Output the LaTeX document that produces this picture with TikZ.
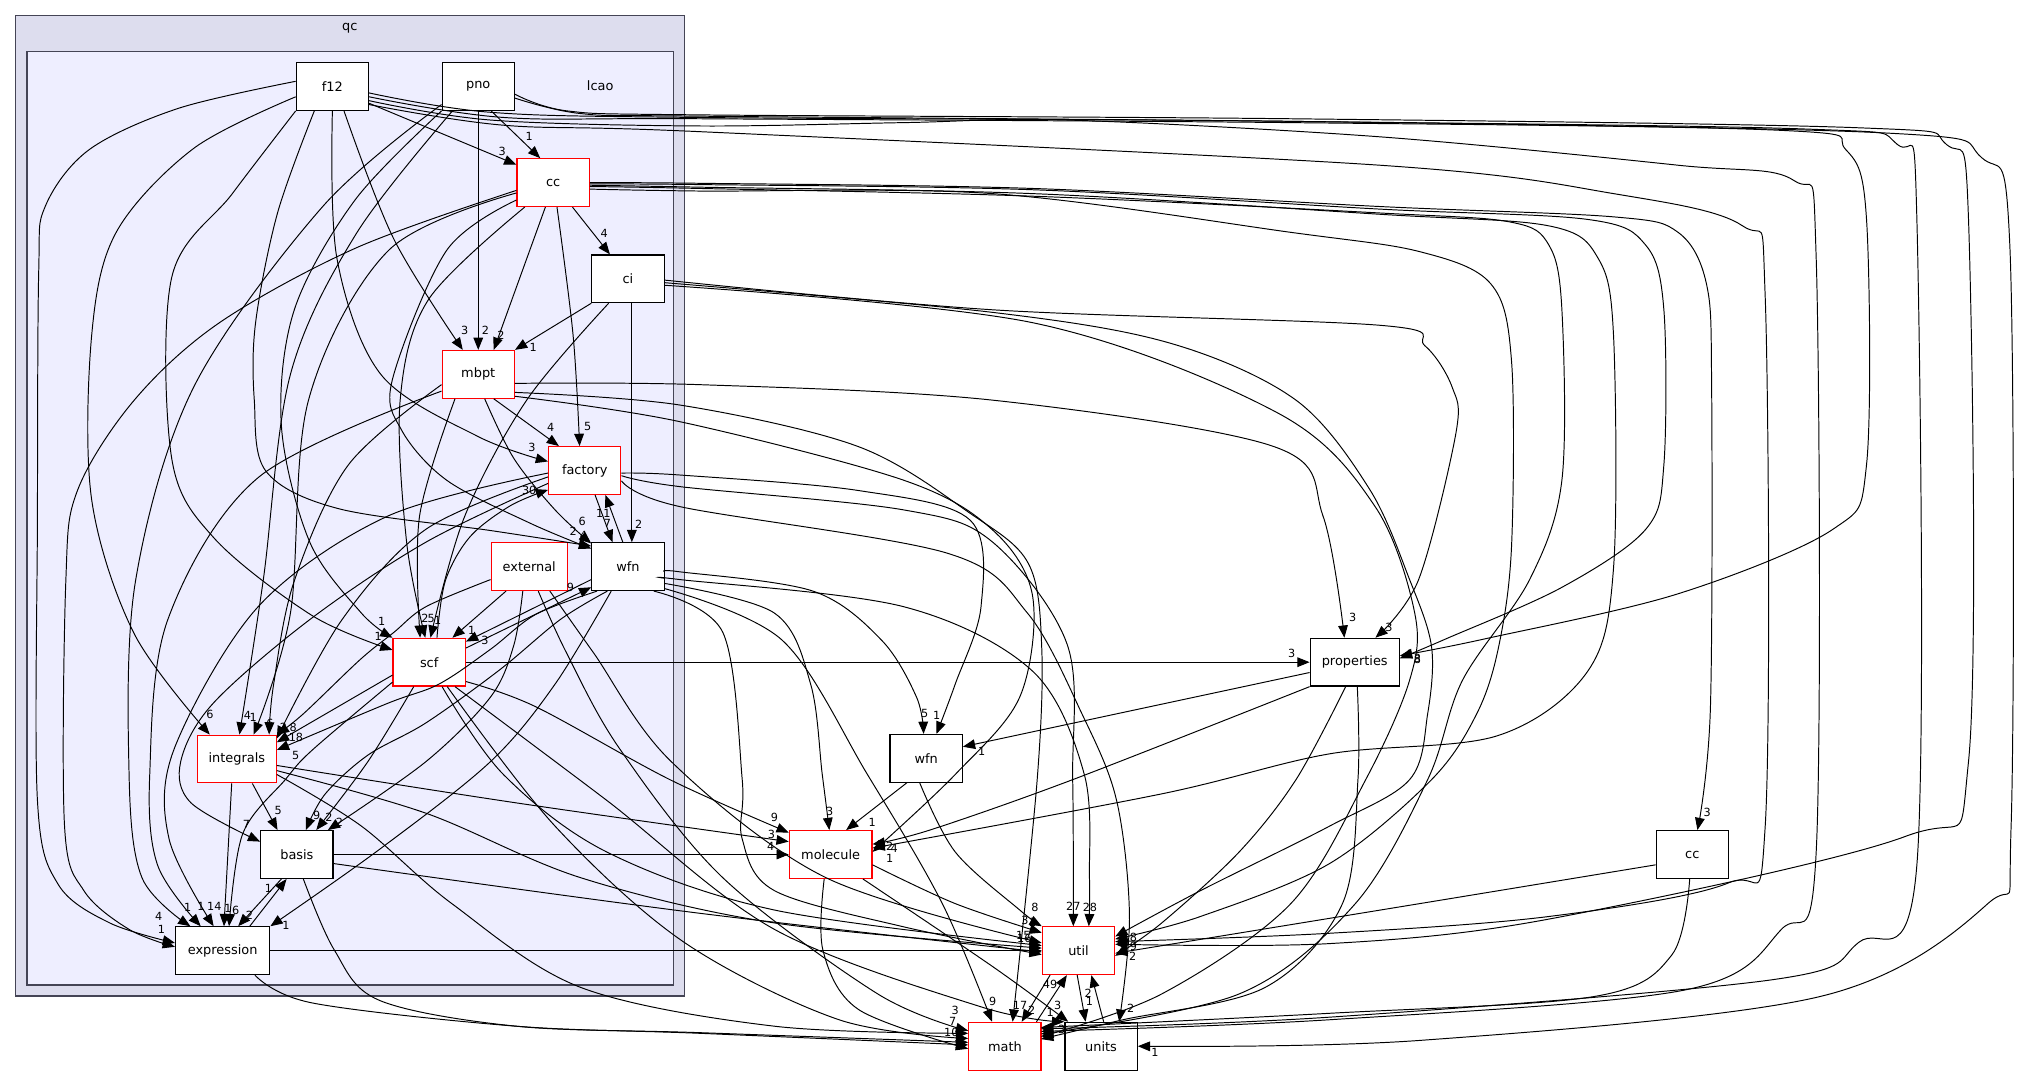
\documentclass[tikz,border=0pt]{standalone}
\usepackage{fontspec}
\setmainfont{DejaVu Sans}
\usetikzlibrary{arrows.meta}
\definecolor{clout}{HTML}{DDDDEE}
\definecolor{clin}{HTML}{EEEEFF}
\definecolor{clbd}{HTML}{444455}
\begin{document}
\begin{tikzpicture}[x=1pt,y=-1pt,
  dirbox/.style={draw=black, fill=white, line width=0.9pt, minimum width=56pt, minimum height=37pt, inner sep=0pt, font=\fontsize{10}{12}\selectfont},
  redbox/.style={dirbox, draw=red},
  dep/.style={draw=black, line width=0.75pt, -{Triangle[length=9.5pt,width=7.5pt]}},
  sm/.style={smooth, tension=0.55},
  lab/.style={inner sep=0pt, font=\fontsize{8.7}{10}\selectfont},
  cltext/.style={inner sep=0pt, font=\fontsize{10}{12}\selectfont}]
\useasboundingbox (0,0) rectangle (1568,834);
\fill[white] (0,0) rectangle (1568,834);
% clusters
\draw[fill=clout, draw=clbd, line width=1pt] (12,12) rectangle (530.5,771.5);
\node[cltext] (qclab) at (271,22) {qc};
\draw[fill=clin, draw=clbd, line width=1pt] (21,40) rectangle (522,763);
\node[cltext] (lcaolab) at (465,66.6) {lcao};
% nodes
\node[dirbox] (f12) at (257.5,67) {f12};
\node[dirbox] (pno) at (370.5,67) {pno};
\node[redbox] (cc) at (428.5,141.5) {cc};
\node[dirbox] (ci) at (486.5,216) {ci};
\node[redbox] (mbpt) at (370.5,290) {mbpt};
\node[redbox] (factory) at (453,364.5) {factory};
\node[redbox, minimum width=59pt] (external) at (410,439) {external};
\node[dirbox] (wfn) at (486.5,439) {wfn};
\node[redbox] (scf) at (332.5,513) {scf};
\node[redbox, minimum width=61pt] (integrals) at (183.5,588) {integrals};
\node[dirbox] (basis) at (230,662) {basis};
\node[dirbox, minimum width=73pt] (expression) at (172.5,736.5) {expression};
\node[dirbox, minimum width=69pt] (properties) at (1049.5,513) {properties};
\node[dirbox] (wfn2) at (717.5,587.5) {wfn};
\node[redbox, minimum width=64pt] (molecule) at (643.5,662) {molecule};
\node[redbox] (util) at (835.5,736.5) {util};
\node[redbox] (math) at (778.5,810.5) {math};
\node[dirbox] (units) at (853,810.5) {units};
\node[dirbox] (cc2) at (1311,662) {cc};

% ---------- edges inside lcao ----------
\draw[dep] ([yshift=-13pt]f12.east) -- ([yshift=-5pt]cc.north west);
\node[lab] (l1) at (389,117) {3};
\draw[dep] ([xshift=10pt]pno.south) -- ([xshift=-10pt]cc.north);
\node[lab] (l2) at (410,106) {1};
\draw[dep] ([xshift=15pt]cc.south) -- ([xshift=-14pt]ci.north);
\node[lab] (l3) at (468,181) {4};
\draw[dep] plot[sm] coordinates {([xshift=9pt]f12.south) (305,185) ([xshift=-12pt]mbpt.north)};
\node[lab] (l4) at (360,256) {3};
\draw[dep] (pno.south) -- (mbpt.north);
\node[lab] (l5) at (376,256) {2};
\draw[dep] ([xshift=-6pt]cc.south) -- ([xshift=12pt]mbpt.north);
\node[lab] (l6) at (388,259.5) {2};
\draw[dep] (ci.south west) -- (mbpt.north east);
\node[lab] (l7) at (413,269) {1};
\draw[dep] plot[sm] coordinates {(f12.south) (261,200) (295,290) (370,338) ([yshift=7pt]factory.west)};
\node[lab] (l8) at (412,346.5) {3};
\draw[dep] ([xshift=12pt]mbpt.south) -- ([xshift=-20pt]factory.north);
\node[lab] (l9) at (426.6,331) {4};
\draw[dep] plot[sm] coordinates {([xshift=3pt]cc.south) (444,260) ([xshift=-4pt]factory.north)};
\node[lab] (l10) at (455.3,330.5) {5};
\draw[dep] plot[sm] coordinates {([xshift=6pt]scf.north) (345,450) (364,416) (395,392) ([yshift=-15pt]factory.west)};
\node[lab] (l11) at (410,379.6) {30};
\draw[dep] ([xshift=-4pt]wfn.north) -- ([xshift=16pt]factory.south);
\node[lab] (l12) at (467.4,397.7) {11};
\draw[dep] ([xshift=8pt]factory.south) -- ([xshift=-12pt]wfn.north);
\node[lab] (l13) at (470.5,405.5) {7};
\draw[dep] ([xshift=3pt]ci.south) -- ([xshift=3pt]wfn.north);
\node[lab] (l14) at (494.8,406) {2};
\draw[dep] plot[sm] coordinates {([xshift=-14pt]f12.south) (215,165) (198,250) (197,310) (206,365) (262,394) (380,411) ([yshift=-3pt]wfn.north west)};
\node[lab] (l15) at (451,404) {6};
\draw[dep] plot[sm] coordinates {([xshift=5pt]mbpt.south) (398,355) (430,395) ([yshift=-1pt]wfn.north west)};
\node[lab] (l16) at (452,415) {4};
\draw[dep] plot[sm] coordinates {([yshift=-13.5pt]cc.west) (346,194) (304,294) (311,333) (346,372) (410,405) ([yshift=-5pt]wfn.north west)};
\node[lab] (l17) at (444,411.5) {2};
\draw[dep] ([yshift=-8pt]scf.north east) -- ([yshift=3pt]wfn.south west);
\node[lab] (l18) at (442,455) {9};
\draw[dep] ([yshift=-10pt]wfn.west) -- ([yshift=-3pt]scf.north east);
\node[lab] (l19) at (375.7,496) {3};
\draw[dep] ([xshift=-18pt]external.south) -- ([xshift=18pt]scf.north);
\node[lab] (l20) at (365.4,488) {1};
\draw[dep] plot[sm] coordinates {(pno.south west) (275,155) (228,240) (218,330) (240,420) (280,475) (scf.north west)};
\node[lab] (l21) at (295.7,481.6) {1};
\draw[dep] plot[sm] coordinates {([xshift=-18pt]mbpt.south) (325,400) ([xshift=-7pt]scf.north)};
\node[lab] (l22) at (329.3,479) {2};
\draw[dep] plot[sm] coordinates {([xshift=-22pt]cc.south) (332,232) (310,310) (315,420) ([xshift=-3pt]scf.north)};
\node[lab] (l23) at (334,479) {5};
\draw[dep] plot[sm] coordinates {([xshift=-15pt]ci.south) (408,310) (360,400) ([xshift=1pt]scf.north)};
\node[lab] (l24) at (339,480.3) {1};
\draw[dep] plot[sm] coordinates {(f12.south west) (180,150) (133,215) (133,355) (166,417) (242,477) ([yshift=9.5pt]scf.west)};
\node[lab] (l25) at (293,492.7) {1};
% integrals
\draw[dep] plot[sm] coordinates {([yshift=-8pt]f12.west) (150,115) (90,180) (71,260) (71,387) (104,491) ([xshift=-21pt]integrals.north)};
\node[lab] (l26) at (162.7,553.4) {6};
\draw[dep] plot[sm] coordinates {([xshift=-20pt]pno.south) (276,181) (225,290) (204,449) ([xshift=2pt]integrals.north)};
\node[lab] (l27) at (191.6,554.4) {4};
\draw[dep] plot[sm] coordinates {([yshift=-8pt]cc.west) (301,194) (239,310) (225,475) ([xshift=13pt]integrals.north)};
\node[lab] (l28) at (196.2,555.7) {1};
\draw[dep] plot[sm] coordinates {([yshift=-8pt]mbpt.west) (270,360) (228,450) (212,530) ([xshift=25pt]integrals.north)};
\node[lab] (l29) at (209.2,560.4) {6};
\draw[dep] plot[sm] coordinates {([yshift=-10pt]external.west) (330,470) (305,490) (279,511) (235,553) (integrals.north east)};
\node[lab] (l30) at (219.5,563.7) {2};
\draw[dep] plot[sm] coordinates {([yshift=-5pt]factory.west) (330,410) (265,480) ([yshift=-3pt]integrals.north east)};
\node[lab] (l31) at (227.2,563.7) {8};
\draw[dep] ([yshift=-10pt]scf.west) -- ([yshift=-6pt]integrals.north east);
\node[lab] (l32) at (229.3,571) {18};
\draw[dep] plot[sm] coordinates {([xshift=-24pt]wfn.south) (415,476) (380,503) (340,530) (300,545) ([yshift=7pt]integrals.east)};
\node[lab] (l33) at (229,585) {5};
% basis
\draw[dep] ([xshift=12pt]integrals.south) -- ([xshift=-15pt]basis.north);
\node[lab] (l34) at (215.6,627.5) {5};
\draw[dep] plot[sm] coordinates {([yshift=-10pt]factory.west) (330,420) (240,480) (165,545) (140,590) (148,622) ([yshift=10pt]basis.west)};
\node[lab] (l35) at (191,639) {7};
\draw[dep] plot[sm] coordinates {([xshift=-16pt]wfn.south) (434,480) (387,519) (330,560) (285,585) (252,615) ([xshift=7pt]basis.north)};
\node[lab] (l36) at (245.3,631.4) {9};
\draw[dep] plot[sm] coordinates {([xshift=-12pt]scf.south) (285,590) ([xshift=15pt]basis.north)};
\node[lab] (l37) at (254.9,633.2) {2};
\draw[dep] plot[sm] coordinates {([xshift=-5pt]external.south) (398,500) (380,540) (330,590) ([xshift=24pt]basis.north)};
\node[lab] (l38) at (262.9,637.3) {2};
% expression
\draw[dep] plot[sm] coordinates {([yshift=4pt]f12.west) (138,84) (69,116) (35,160) (30,210) (29,400) (29,620) (45,685) (85,715) ([yshift=6pt]expression.west)};
\node[lab] (l39) at (123,710) {4};
\draw[dep] plot[sm] coordinates {([yshift=-6pt]cc.west) (276,192) (170,250) (104,310) (60,380) (51,450) (50,640) (65,690) (100,720) ([yshift=3pt]expression.west)};
\node[lab] (l40) at (125,720) {1};
\draw[dep] plot[sm] coordinates {([yshift=-14pt]pno.west) (250,160) (150,300) (105,450) (100,600) (110,680) ([xshift=-25pt]expression.north)};
\node[lab] (l41) at (145.4,703.2) {1};
\draw[dep] plot[sm] coordinates {([yshift=-13pt]mbpt.west) (200,370) (130,480) (116,600) (122,670) ([xshift=-17pt]expression.north)};
\node[lab] (l42) at (155.7,702.4) {1};
\draw[dep] plot[sm] coordinates {([yshift=-2pt]factory.west) (300,400) (200,470) (135,580) (131,650) ([xshift=-7pt]expression.north)};
\node[lab] (l43) at (166,702.4) {14};
\draw[dep] ([xshift=-4pt]integrals.south) -- ([xshift=1pt]expression.north);
\node[lab] (l44) at (176.5,703.7) {1};
\draw[dep] plot[sm] coordinates {([yshift=3.5pt]scf.south west) (242,581) (221,604) (188,646) ([xshift=5pt]expression.north)};
\node[lab] (l45) at (182.5,705) {6};
\draw[dep] ([xshift=-12pt]basis.south) -- ([xshift=12pt]expression.north);
\node[lab] (l46) at (193.2,709.4) {2};
\draw[dep] ([xshift=21pt]expression.north) -- ([xshift=-8pt]basis.south);
\node[lab] (l47) at (207.9,688.2) {1};
\draw[dep] plot[sm] coordinates {([xshift=-13pt]wfn.south) (430,530) (380,590) (294,658) (expression.north east)};
\node[lab] (l48) at (221.6,716.6) {1};

% ---------- edges leaving lcao ----------
\draw[dep] plot[sm] coordinates {([yshift=-5pt]f12.east) (380,87) (540,91) (1000,94) (1460,103) (1535,122) (1557,190) (1558,640) (1540,700) (1410,772) (1100,806) (units.east)};
\node[lab] (r1) at (894.8,815.5) {1};
\draw[dep] plot[sm] coordinates {([yshift=-6pt]pno.east) (440,86) (542,89) (1000,92) (1440,99) (1508,112) (1525,170) (1525,590) (1476,648) (1200,712) (1030,731) ([yshift=5pt]util.east)};
\draw[dep] plot[sm] coordinates {([yshift=-9pt]pno.east) (450,88) (542,90) (1000,94) (1400,100) (1470,112) (1485,170) (1485,670) (1440,730) (1373,759) (1030,788) (806.5,797)};
\draw[dep] plot[sm] coordinates {([yshift=-8pt]f12.east) (390,91) (542,92) (1000,95) (1380,101) (1430,116) (1446,170) (1446,360) (1420,410) (1300,460) (1150,495) ([yshift=5pt]properties.east)};
\node[lab] (r4) at (1098,511) {8};
\draw[dep] plot[sm] coordinates {([yshift=-11pt]f12.east) (380,93) (542,97.6) (700,95) (827,93) (1069,106) (1300,128) (1390,140) (1407,200) (1407,660) (1380,720) (1305,767) (1030,790) (806.5,799)};
\draw[dep] plot[sm] coordinates {([yshift=-14pt]f12.east) (390,97) (542,102) (1069,128) (1250,150) (1350,175) (1367.5,230) (1367.5,640) (1339,684) (1200,710) (1030,723) ([yshift=7pt]util.east)};
% cc outgoing
\draw[dep] plot[sm] coordinates {(cc.east) (542,142) (800,146) (1069,160) (1250,168) (1300,180) (1322,220) (1326,300) (1325,550) ([xshift=4pt]cc2.north)};
\node[lab] (c1) at (1322.6,629.3) {3};
\draw[dep] plot[sm] coordinates {([yshift=-1pt]cc.east) (542,143) (800,147) (1069,162) (1230,170) (1275,190) (1289,240) (1289,360) (1275,410) (1210,455) (1120,495) ([yshift=3pt]properties.east)};
\node[lab] (c2) at (1098,510) {3};
\draw[dep] plot[sm] coordinates {([yshift=-2pt]cc.east) (542,145) (800,150) (1069,166) (1200,175) (1238,200) (1250,260) (1250,440) (1230,520) (1160,570) (1030,584) (900,615) ([yshift=5pt]molecule.east)};
\node[lab] (c3) at (692.8,657.2) {4};
\draw[dep] plot[sm] coordinates {([yshift=-3pt]cc.east) (542,146) (800,152) (1069,165) (1170,172) (1200,190) (1210,240) (1210,372) (1185,449) (1133,527) (1106,604) (1050,700) (960,770) (806.5,801)};
\draw[dep] plot[sm] coordinates {([yshift=-5pt]cc.east) (542,148) (769,150) (1000,180) (1100,195) (1155,220) (1171,280) (1171,423) (1161,501) (1144,553) (1109,604) (1030,669) (930,710) ([yshift=9pt]util.east)};
% ci outgoing
\draw[dep] plot[sm] coordinates {([yshift=-1pt]ci.east) (769,240) (1069,252) (1104,268) (1125,300) (1128,335) (1099,449) ([xshift=16pt]properties.north)};
\node[lab] (ci1) at (1076,486) {3};
\draw[dep] plot[sm] coordinates {([yshift=-3pt]ci.east) (769,242) (907,266) (1004,310) (1061,379) (1092,449) (1109,501) (1106,553) (1092,604) (1030,640) (930,690) ([yshift=11pt]util.east)};
\draw[dep] plot[sm] coordinates {([yshift=-5pt]ci.east) (800,250) (990,320) (1065,392) (1096,475) (1092,527) (1058,604) (1000,700) (900,770) (806.5,803)};
% mbpt outgoing
\draw[dep] plot[sm] coordinates {([yshift=-7pt]mbpt.east) (542,298) (769,310) (987,346) (1025,400) ([xshift=-8pt]properties.north)};
\node[lab] (m1) at (1048,478) {3};
\draw[dep] plot[sm] coordinates {([yshift=-14pt]mbpt.east) (526.8,313.8) (665,346) (751.6,397.7) (796.6,436.4) (807,501) (803.5,604) ([xshift=6pt]math.north)};
\node[lab] (m2) at (790.2,779.1) {17};
\draw[dep] plot[sm] coordinates {([yshift=-17pt]mbpt.east) (526.8,326.7) (700,372) (769,410.6) (800,462) (790,540) (740,600) ([yshift=2pt]molecule.east)};
\node[lab] (m3) at (689.3,665) {1};
% factory outgoing
\draw[dep] plot[sm] coordinates {([yshift=-2pt]factory.east) (526.8,368) (665,380) (751.6,403) (760,470) (740,530) ([xshift=8pt]wfn2.north)};
\node[lab] (f1) at (725.7,554) {1};
\draw[dep] plot[sm] coordinates {([yshift=-4pt]factory.east) (526.8,377) (700,395) (769,420) (827,500) (831,604) ([xshift=-4pt]util.north)};
\node[lab] (f2) at (831.5,702) {27};
\draw[dep] plot[sm] coordinates {([yshift=-8pt]factory.east) (526.8,392.5) (734,428.6) (796,475) (838,552.6) (865,620) (875,710) ([xshift=14pt]units.north)};
\node[lab] (f3) at (876,781.2) {2};
% wfn outgoing
\draw[dep] plot[sm] coordinates {([yshift=-4pt]wfn.east) (526.8,443) (630,458) (683,496) (710,540) ([xshift=-2pt]wfn2.north)};
\node[lab] (w1) at (716.3,552.6) {5};
\draw[dep] plot[sm] coordinates {([yshift=-9pt]wfn.east) (526.8,449) (700,470) (800,520) (840,600) (844,680) ([xshift=8pt]util.north)};
\node[lab] (w2) at (844.4,703.2) {28};
\draw[dep] plot[sm] coordinates {([yshift=-13pt]wfn.east) (600,475) (628,530) (637,600) ([xshift=-1pt]molecule.north)};
\node[lab] (w3) at (642.7,628.3) {3};
\draw[dep] plot[sm] coordinates {([yshift=-17pt]wfn.east) (606,496) (672,600) (730,700) ([xshift=-10pt]math.north)};
\node[lab] (w4) at (769,776) {9};
\draw[dep] plot[sm] coordinates {([xshift=20pt]wfn.south) (560,490) (575,604) (575,650) (600,690) (700,718) ([yshift=-3pt]util.west)};
% scf outgoing
\draw[dep] (scf.east) -- (properties.west);
\node[lab] (s1) at (1000.6,506.1) {3};
\draw[dep] plot[sm] coordinates {([yshift=-15pt]scf.east) (415,547.5) (519,604) ([yshift=17pt]molecule.west)};
\node[lab] (s2) at (600,633.5) {9};
\draw[dep] plot[sm] coordinates {([xshift=10pt]scf.south) (390,600) (470,660) (600,705) ([yshift=4pt]util.west)};
\draw[dep] plot[sm] coordinates {([xshift=14pt]scf.south) (430,640) (530,730) (650,790) ([yshift=6pt]math.west)};
\node[lab] (s4) at (740,783) {3};
\draw[dep] plot[sm] coordinates {([xshift=20pt]scf.south) (470,620) (600,720) (760,780) (units.north west)};
\node[lab] (s5) at (819.4,778.6) {3};
% integrals, basis, expression outgoing
\draw[dep] plot[sm] coordinates {([yshift=-5pt]integrals.east) (400,622) ([yshift=10pt]molecule.west)};
\node[lab] (i1) at (597.7,646.1) {3};
\draw[dep] plot[sm] coordinates {([yshift=-9pt]integrals.east) (330,630) (450,680) (600,715) ([yshift=2pt]util.west)};
\draw[dep] plot[sm] coordinates {([yshift=-12pt]integrals.east) (280,640) (350,700) (450,765) (600,795) ([yshift=10pt]math.west)};
\node[lab] (i3) at (738,791.5) {7};
\draw[dep] (basis.east) -- (molecule.west);
\node[lab] (b1) at (597,655.4) {4};
\draw[dep] plot[sm] coordinates {([yshift=-7pt]basis.east) (542,707.5) ([yshift=-1pt]util.west)};
\draw[dep] plot[sm] coordinates {([xshift=5pt]basis.south) (259,736) (294,775) (400,795) (542,800) ([yshift=3pt]math.west)};
\node[lab] (b3) at (737,800) {10};
\draw[dep] (expression.east) -- (util.west);
\draw[dep] plot[sm] coordinates {([xshift=25pt]expression.south) (242,777) (400,795) (542,800.5) ([yshift=1pt]math.west)};
\node[lab] (x2) at (742,809) {1};
% external outgoing
\draw[dep] plot[sm] coordinates {([xshift=7pt]external.south) (439,506) (480,580) (560,680) (680,770) ([yshift=12pt]math.west)};
\draw[dep] plot[sm] coordinates {([xshift=16pt]external.south) (460,506) (520,590) (640,680) ([yshift=6pt]util.west)};
\node[lab] (u15) at (792.8,724.4) {15};
\node[lab] (u16) at (793.5,727) {16};
% molecule, wfn2, properties, cc2
\draw[dep] plot[sm] coordinates {([yshift=-8pt]molecule.east) (740,700) ([yshift=-5pt]util.north west)};
\node[lab] (mo1) at (794,713) {3};
\node[lab] (mo1b) at (800,714.5) {2};
\draw[dep] plot[sm] coordinates {([xshift=-5pt]molecule.south) (637.5,736) (665,782) ([yshift=-2pt]math.west)};
\draw[dep] plot[sm] coordinates {([xshift=25pt]molecule.south) (769,748.8) ([xshift=3pt]units.north west)};
\node[lab] (mo3) at (813.5,784.5) {1};
\draw[dep] ([xshift=-15pt]wfn2.south) -- ([xshift=12pt]molecule.north);
\node[lab] (wf1) at (675.6,637.3) {1};
\draw[dep] plot[sm] coordinates {([xshift=-5pt]wfn2.south) (740,660) (790,705) (util.north west)};
\node[lab] (wf2) at (801.8,703.2) {8};
\draw[dep] ([yshift=-8pt]properties.west) -- ([yshift=9pt]wfn2.east);
\node[lab] (p1) at (760.6,582.3) {1};
\draw[dep] plot[sm] coordinates {(properties.south west) (831,604) (720.5,643) ([yshift=8pt]molecule.east)};
\node[lab] (p2) at (689.3,656) {2};
\draw[dep] plot[sm] coordinates {([xshift=-7pt]properties.south) (1004,604) (960,660) (900,715) ([yshift=-4pt]util.east)};
\node[lab] (p3) at (877.5,740.6) {2};
\draw[dep] plot[sm] coordinates {([xshift=2pt]properties.south) (1052,604) (1040,700) (980,765) (870,790) (806.5,805)};
\draw[dep] plot[sm] coordinates {([yshift=-8pt]cc2.west) (1100,700) ([yshift=-2pt]util.east)};
\draw[dep] plot[sm] coordinates {([xshift=-2pt]cc2.south) (1295,740) (1235,772) (1030,785) (806.5,796)};
\node[lab] (ur1) at (878,726.2) {8};
\node[lab] (ur2) at (878,733.4) {9};
\node[lab] (mr1) at (822.5,797.4) {3};
% util / math / units
\draw[dep] ([xshift=-22pt]util.south) -- ([xshift=13pt]math.north);
\node[lab] (u1) at (799.3,783) {2};
\draw[dep] ([xshift=-4pt]math.north east) -- ([xshift=-9pt]util.south);
\node[lab] (u2) at (813.5,762.3) {49};
\draw[dep] ([xshift=-1pt]util.south) -- ([xshift=-12pt]units.north);
\node[lab] (u3) at (843.9,776) {1};
\draw[dep] ([xshift=2pt]units.north) -- ([xshift=10pt]util.south);
\node[lab] (u4) at (843.1,769.5) {2};
\end{tikzpicture}
\end{document}
